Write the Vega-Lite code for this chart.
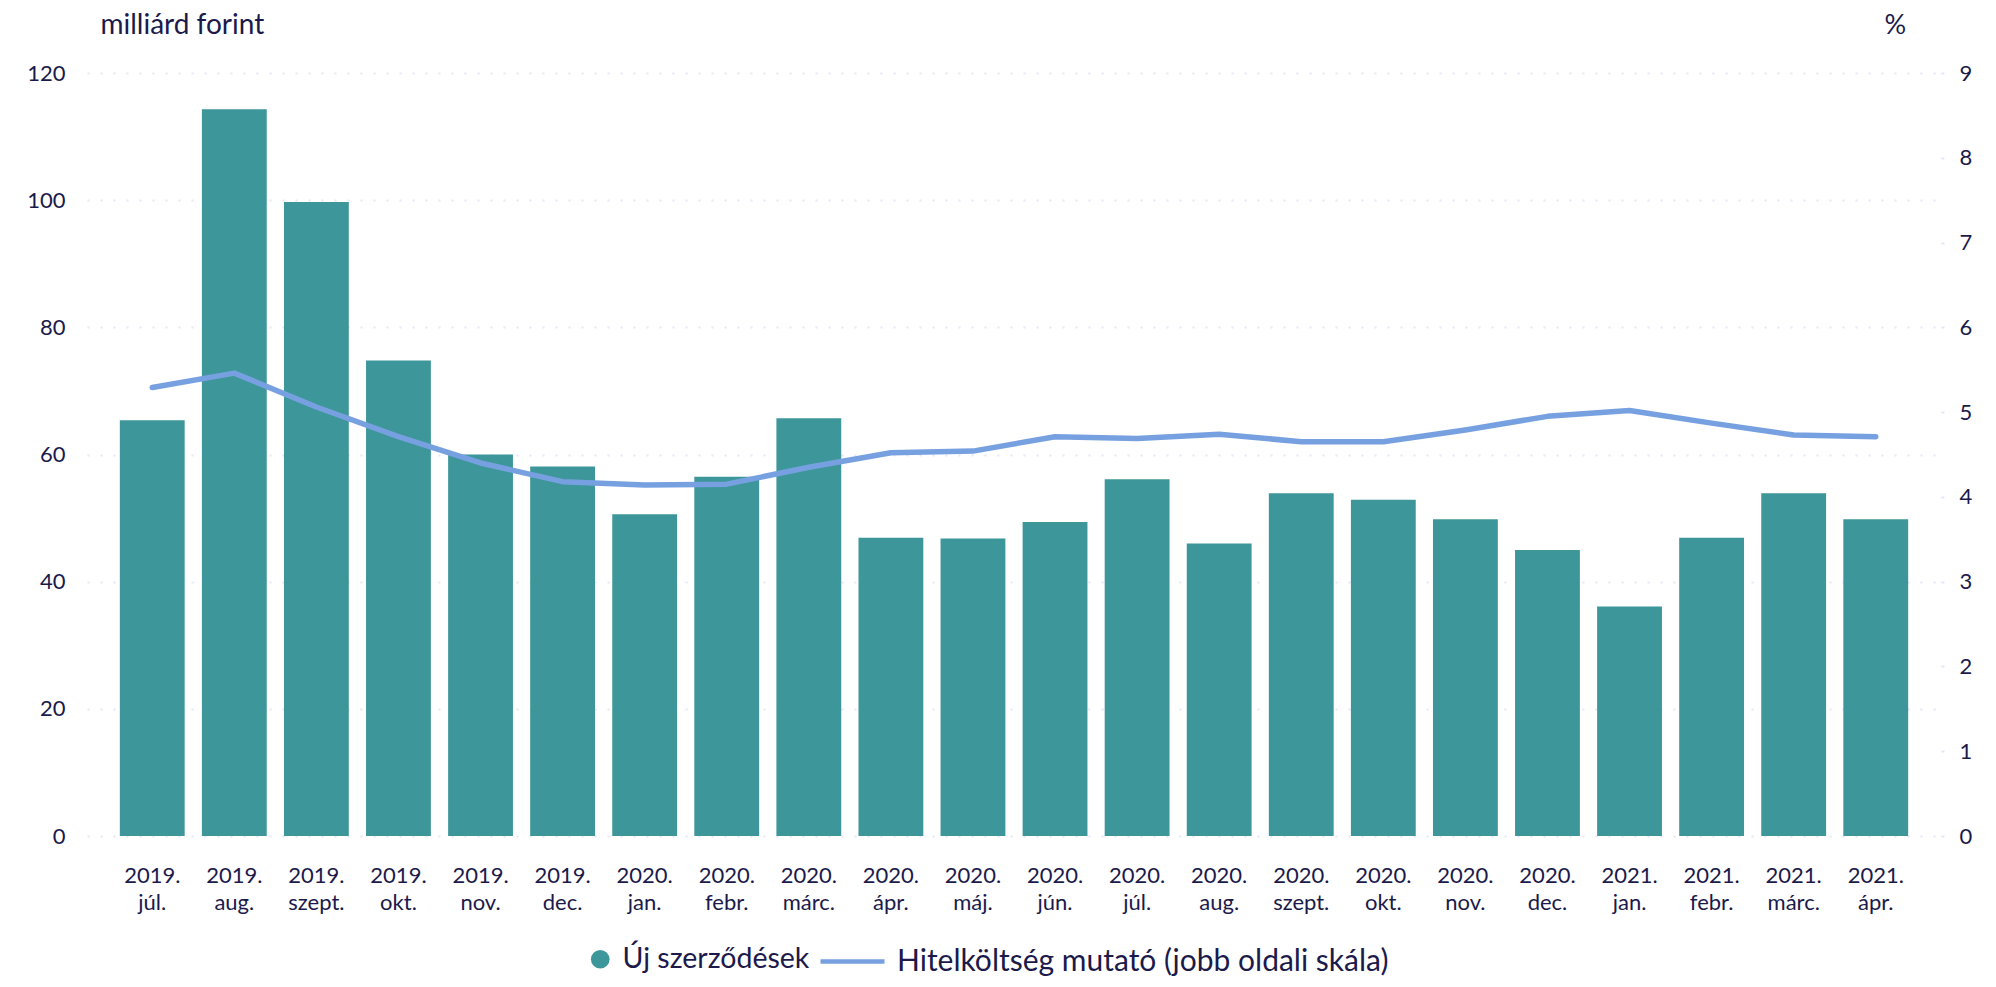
{
  "$schema": "https://vega.github.io/schema/vega-lite/v6.json",
  "width": 1854,
  "height": 763,
  "autosize": "none",
  "padding": {"left": 87, "top": 73, "right": 55, "bottom": 151},
  "background": "white",
  "config": {
    "font": "Lato",
    "view": {"stroke": null},
    "axis": {"labelColor": "#1b1a4b", "titleColor": "#1b1a4b", "labelFont": "Lato", "titleFont": "Lato", "labelFontSize": 22}
  },
  "data": {
    "values": [
      {"honap": "2019. júl.", "uj": 65.4, "hk": 5.29},
      {"honap": "2019. aug.", "uj": 114.3, "hk": 5.46},
      {"honap": "2019. szept.", "uj": 99.7, "hk": 5.06},
      {"honap": "2019. okt.", "uj": 74.8, "hk": 4.71},
      {"honap": "2019. nov.", "uj": 60.0, "hk": 4.40},
      {"honap": "2019. dec.", "uj": 58.1, "hk": 4.18},
      {"honap": "2020. jan.", "uj": 50.6, "hk": 4.14},
      {"honap": "2020. febr.", "uj": 56.5, "hk": 4.15},
      {"honap": "2020. márc.", "uj": 65.7, "hk": 4.35},
      {"honap": "2020. ápr.", "uj": 46.9, "hk": 4.52},
      {"honap": "2020. máj.", "uj": 46.8, "hk": 4.54},
      {"honap": "2020. jún.", "uj": 49.4, "hk": 4.71},
      {"honap": "2020. júl.", "uj": 56.1, "hk": 4.69},
      {"honap": "2020. aug.", "uj": 46.0, "hk": 4.74},
      {"honap": "2020. szept.", "uj": 53.9, "hk": 4.65},
      {"honap": "2020. okt.", "uj": 52.9, "hk": 4.65},
      {"honap": "2020. nov.", "uj": 49.8, "hk": 4.79},
      {"honap": "2020. dec.", "uj": 45.0, "hk": 4.95},
      {"honap": "2021. jan.", "uj": 36.1, "hk": 5.02},
      {"honap": "2021. febr.", "uj": 46.9, "hk": 4.87},
      {"honap": "2021. márc.", "uj": 53.9, "hk": 4.73},
      {"honap": "2021. ápr.", "uj": 49.8, "hk": 4.71}
    ]
  },
  "encoding": {
    "x": {
      "field": "honap",
      "type": "ordinal",
      "sort": null,
      "scale": {"paddingInner": 0.21, "paddingOuter": 0.4},
      "axis": {
        "title": null,
        "labelAngle": 0,
        "labelExpr": "split(datum.label, ' ')",
        "labelLineHeight": 27,
        "labelPadding": 29,
        "domain": false,
        "ticks": false,
        "grid": false
      }
    }
  },
  "layer": [
    {
      "mark": {"type": "bar"},
      "encoding": {
        "y": {
          "field": "uj",
          "type": "quantitative",
          "scale": {"domain": [0, 120]},
          "axis": {
            "values": [0, 20, 40, 60, 80, 100, 120],
            "title": "milliárd forint",
            "titleAngle": 0,
            "titleX": 13,
            "titleY": -48,
            "titleAlign": "left",
            "titleBaseline": "middle",
            "titleFontSize": 28,
            "titleFontWeight": "normal",
            "domain": false,
            "ticks": false,
            "labelPadding": 22,
            "grid": true,
            "gridDash": [2, 11],
            "gridColor": "#e3e6f5",
            "gridWidth": 2
          }
        },
        "fill": {
          "datum": "Új szerződések",
          "scale": {"range": ["#3d9699"]},
          "legend": {
            "orient": "none",
            "legendX": 499,
            "legendY": 872,
            "title": null,
            "symbolType": "circle",
            "symbolSize": 350,
            "symbolStrokeWidth": 0,
            "labelFontSize": 28.5,
            "labelColor": "#1b1a4b",
            "labelFont": "Lato",
            "labelOffset": 8,
            "labelLimit": 800
          }
        }
      }
    },
    {
      "mark": {"type": "line", "strokeWidth": 5.5, "strokeCap": "round", "strokeJoin": "round"},
      "encoding": {
        "y": {
          "field": "hk",
          "type": "quantitative",
          "scale": {"domain": [0, 9]},
          "axis": {
            "orient": "right",
            "values": [0, 1, 2, 3, 4, 5, 6, 7, 8, 9],
            "title": "%",
            "titleAngle": 0,
            "titleX": -57,
            "titleY": -48,
            "titleAlign": "left",
            "titleBaseline": "middle",
            "titleFontSize": 27,
            "titleFontWeight": "normal",
            "domain": false,
            "ticks": true,
            "tickSize": 3,
            "tickWidth": 2,
            "tickColor": "#e3e6f5",
            "labelPadding": 15,
            "grid": false
          }
        },
        "stroke": {
          "datum": "Hitelköltség mutató (jobb oldali skála)",
          "scale": {"range": ["#77a0e0"]},
          "legend": {
            "orient": "none",
            "legendX": 731,
            "legendY": 854,
            "title": null,
            "symbolType": "stroke",
            "symbolSize": 4096,
            "symbolStrokeWidth": 4.5,
            "labelFontSize": 30,
            "labelColor": "#1b1a4b",
            "labelFont": "Lato",
            "labelOffset": 10,
            "labelLimit": 800
          }
        }
      }
    }
  ],
  "resolve": {"scale": {"y": "independent"}}
}
